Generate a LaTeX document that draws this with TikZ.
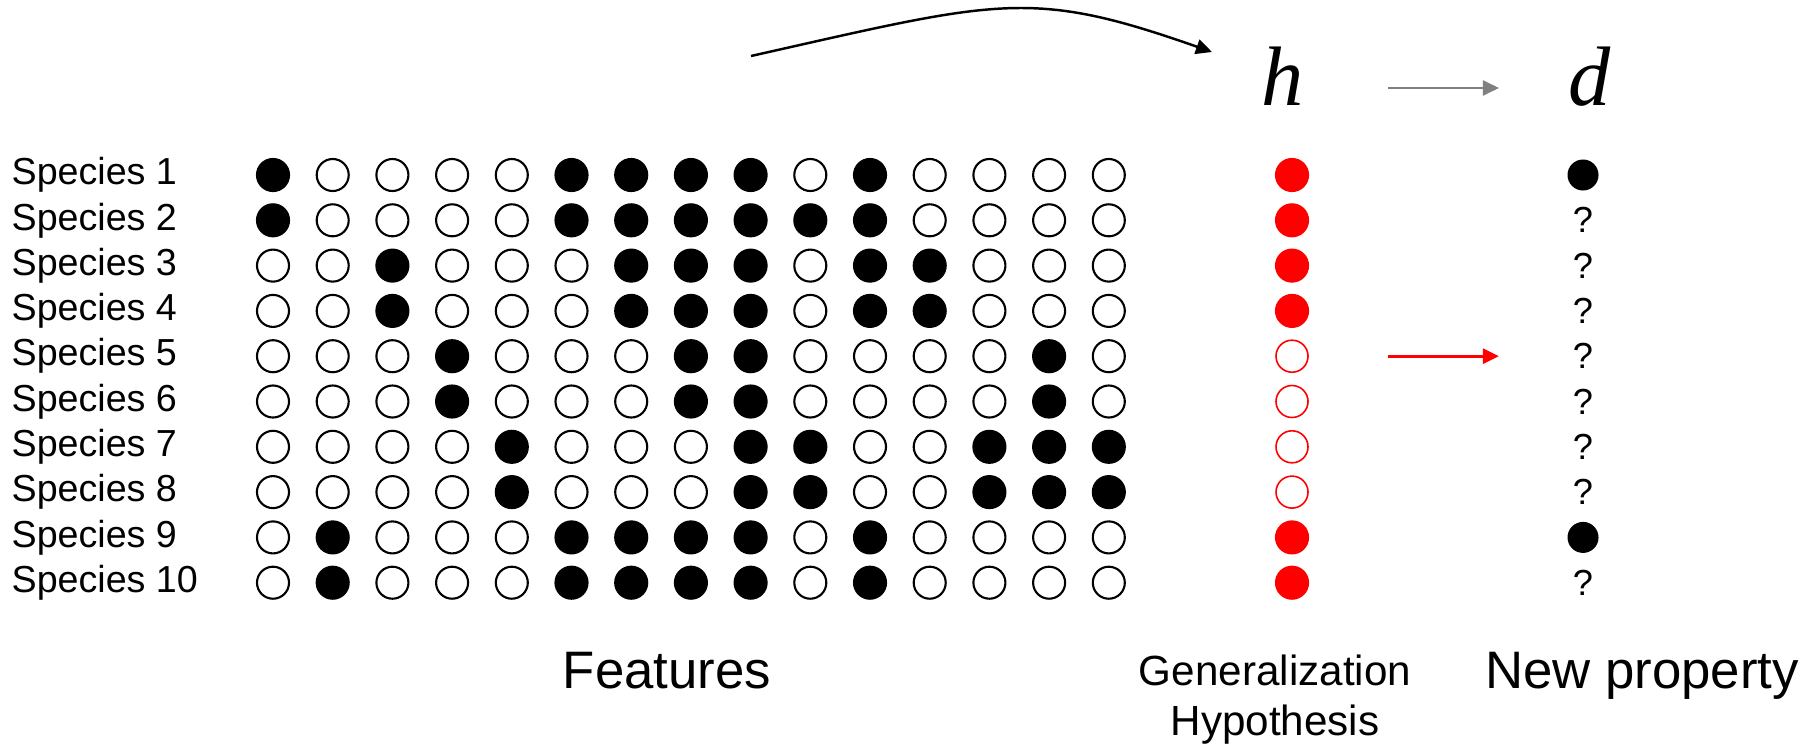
\documentclass[tikz,border=0pt]{standalone}
\usepackage{fontspec}
\setmainfont{Liberation Sans}
\newfontfamily\serifit{Liberation Serif}
\usetikzlibrary{arrows.meta}

\begin{document}
\begin{tikzpicture}[x=0.01cm,y=-0.01cm,>={Triangle[length=0.16cm,width=0.15cm]}]
  \tikzstyle{spot}=[circle, minimum size=0.32cm, inner sep=0pt, line width=0.6pt]
  \tikzstyle{spot0}=[spot, draw=black, fill=white]
  \tikzstyle{spot1}=[spot, draw=black, fill=black]
  \tikzstyle{hyp0}=[spot, draw=red, line width=0.45pt]
  \tikzstyle{hyp1}=[spot, draw=red, fill=red]
  \tikzstyle{prop0}=[inner sep=0pt, font=\fontsize{10.3}{12}\selectfont]
  \tikzstyle{prop1}=[spot, minimum size=0.31cm, fill=black]
  \tikzstyle{species}=[anchor=west, inner sep=0pt, font=\fontsize{10.7}{12}\selectfont]
  \tikzstyle{caption}=[anchor=base, inner sep=0pt, font=\fontsize{15}{18}\selectfont]
  \tikzstyle{sym}=[anchor=base, inner sep=0pt, text height=0.5cm, text depth=0.16cm,
    font=\fontsize{24}{28}\selectfont\serifit\itshape]

  \useasboundingbox (0,0) rectangle (1813,745);

  % Species x features matrix
  \foreach \r/\bits in {1/{1,0,0,0,0,1,1,1,1,0,1,0,0,0,0},
                        2/{1,0,0,0,0,1,1,1,1,1,1,0,0,0,0},
                        3/{0,0,1,0,0,0,1,1,1,0,1,1,0,0,0},
                        4/{0,0,1,0,0,0,1,1,1,0,1,1,0,0,0},
                        5/{0,0,0,1,0,0,0,1,1,0,0,0,0,1,0},
                        6/{0,0,0,1,0,0,0,1,1,0,0,0,0,1,0},
                        7/{0,0,0,0,1,0,0,0,1,1,0,0,1,1,1},
                        8/{0,0,0,0,1,0,0,0,1,1,0,0,1,1,1},
                        9/{0,1,0,0,0,1,1,1,1,0,1,0,0,0,0},
                        10/{0,1,0,0,0,1,1,1,1,0,1,0,0,0,0}} {
    \node[species] (s-\r) at (11,{175+45.3*(\r-1)}) {Species \r};
    \foreach \b [count=\c] in \bits
      \node[spot\b] (f-\r-\c) at ({213.3+59.7*\c},{175+45.3*(\r-1)}) {};
  }

  % Hypothesis column
  \foreach \r/\b in {1/1,2/1,3/1,4/1,5/0,6/0,7/0,8/0,9/1,10/1}
    \node[hyp\b] (g-\r) at (1292,{175+45.3*(\r-1)}) {};

  % New property column
  \foreach \r/\v in {1/1,2/0,3/0,4/0,5/0,6/0,7/0,8/0,9/1,10/0}
    \node[prop\v] (p-\r) at (1583,{175+45.3*(\r-1)}) {\ifnum\v=0 ?\fi};

  % Labels
  \node[caption] (feat) at (667,688) {Features};
  \node[anchor=north, inner sep=0pt, align=center, font=\fontsize{12}{14.2}\selectfont]
    (genhyp) at (1275,654) {Generalization\\Hypothesis};
  \node[caption] (newprop) at (1642,688) {New property};
  \node[sym] (h) at (1283,105) {h};
  \node[sym] (d) at (1590,105) {d};

  % Arrows
  \coordinate (arcs) at (751,56);
  \coordinate (arce) at (1212,52);
  \draw[->, line width=0.7pt] (arcs) .. controls (1000,0) and (1030,-12) .. (arce);
  \draw[->, gray, line width=0.6pt, shorten <=1.05cm, shorten >=0.91cm] (h.center) -- (d.center);
  \draw[->, red, line width=0.8pt, shorten <=0.96cm, shorten >=0.84cm] (g-5.center) -- (p-5.center);
\end{tikzpicture}
\end{document}
